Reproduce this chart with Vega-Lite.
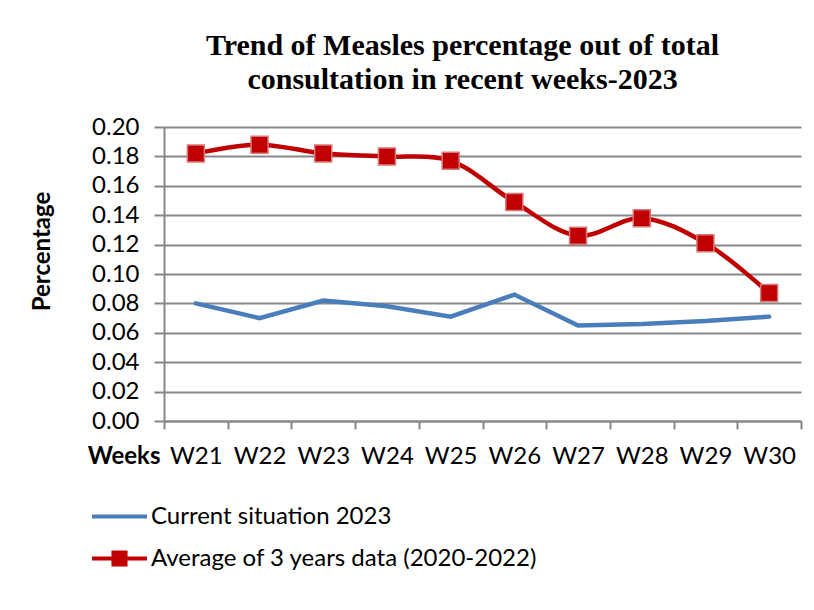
{
  "$schema": "https://vega.github.io/schema/vega-lite/v6.json",
  "width": 637,
  "height": 294,
  "autosize": "none",
  "padding": {"left": 164, "top": 127, "right": 13, "bottom": 189},
  "background": "white",
  "config": {"view": {"stroke": null}, "font": "Lato"},
  "title": {
    "text": ["Trend of Measles percentage out of total", "consultation in recent weeks-2023"],
    "font": "Liberation Serif",
    "fontSize": 30,
    "fontWeight": "bold",
    "color": "black",
    "anchor": "middle",
    "dx": -20,
    "lineHeight": 34,
    "offset": 20
  },
  "data": {
    "values": [
      {"week": "W21", "series": "Current situation 2023", "value": 0.080},
      {"week": "W22", "series": "Current situation 2023", "value": 0.070},
      {"week": "W23", "series": "Current situation 2023", "value": 0.082},
      {"week": "W24", "series": "Current situation 2023", "value": 0.078},
      {"week": "W25", "series": "Current situation 2023", "value": 0.071},
      {"week": "W26", "series": "Current situation 2023", "value": 0.086},
      {"week": "W27", "series": "Current situation 2023", "value": 0.065},
      {"week": "W28", "series": "Current situation 2023", "value": 0.066},
      {"week": "W29", "series": "Current situation 2023", "value": 0.068},
      {"week": "W30", "series": "Current situation 2023", "value": 0.071},
      {"week": "W21", "series": "Average of 3 years data (2020-2022)", "value": 0.182},
      {"week": "W22", "series": "Average of 3 years data (2020-2022)", "value": 0.188},
      {"week": "W23", "series": "Average of 3 years data (2020-2022)", "value": 0.182},
      {"week": "W24", "series": "Average of 3 years data (2020-2022)", "value": 0.180},
      {"week": "W25", "series": "Average of 3 years data (2020-2022)", "value": 0.177},
      {"week": "W26", "series": "Average of 3 years data (2020-2022)", "value": 0.149},
      {"week": "W27", "series": "Average of 3 years data (2020-2022)", "value": 0.126},
      {"week": "W28", "series": "Average of 3 years data (2020-2022)", "value": 0.138},
      {"week": "W29", "series": "Average of 3 years data (2020-2022)", "value": 0.121},
      {"week": "W30", "series": "Average of 3 years data (2020-2022)", "value": 0.087}
    ]
  },
  "encoding": {
    "x": {
      "field": "week",
      "type": "ordinal",
      "sort": null,
      "bandPosition": 0.5,
      "scale": {"type": "band", "paddingInner": 0, "paddingOuter": 0},
      "axis": {
        "title": "Weeks",
        "titleFont": "Lato",
        "titleFontSize": 24,
        "titleFontWeight": "bold",
        "titleColor": "black",
        "titleX": -4,
        "titleY": 42,
        "titleAlign": "right",
        "titleBaseline": "alphabetic",
        "labelAngle": 0,
        "labelFontSize": 24,
        "labelColor": "black",
        "labelBaseline": "alphabetic",
        "labelPadding": 34,
        "tickBand": "extent",
        "tickSize": 8,
        "tickWidth": 2,
        "tickColor": "#878787",
        "domainColor": "#878787",
        "domainWidth": 2,
        "grid": false
      }
    },
    "y": {
      "field": "value",
      "type": "quantitative",
      "scale": {"domain": [0, 0.2], "nice": false},
      "axis": {
        "title": "Percentage",
        "titleFont": "Lato",
        "titleFontSize": 24,
        "titleFontWeight": "bold",
        "titleColor": "black",
        "titleX": -122,
        "titleY": 124,
        "titleAngle": -90,
        "titleAlign": "center",
        "titleBaseline": "middle",
        "values": [0, 0.02, 0.04, 0.06, 0.08, 0.1, 0.12, 0.14, 0.16, 0.18, 0.2],
        "format": ".2f",
        "labelFontSize": 24,
        "labelColor": "black",
        "labelPadding": 15,
        "tickSize": 10,
        "tickWidth": 2,
        "tickColor": "#878787",
        "domainColor": "#878787",
        "domainWidth": 2,
        "grid": true,
        "gridColor": "#878787",
        "gridWidth": 2
      }
    }
  },
  "layer": [
    {
      "transform": [{"filter": "datum.series === 'Current situation 2023'"}],
      "mark": {"type": "line", "strokeWidth": 4.5, "strokeCap": "round", "strokeJoin": "miter"},
      "encoding": {
        "color": {
          "field": "series",
          "type": "nominal",
          "sort": null,
          "scale": {
            "domain": ["Current situation 2023", "Average of 3 years data (2020-2022)"],
            "range": ["#4A7EBB", "#C00000"]
          },
          "legend": {
            "title": null,
            "orient": "none",
            "legendX": -74,
            "legendY": 360,
            "direction": "vertical",
            "labelFont": "Lato",
            "labelFontSize": 24,
            "labelColor": "black",
            "labelOffset": 2,
            "symbolSize": 3025,
            "symbolStrokeWidth": 4,
            "rowPadding": 0,
            "labelLimit": 600,
            "encode": {
              "symbols": {
                "update": {
                  "shape": {"signal": "datum.value === 'Current situation 2023' ? 'M-1,0H1' : 'M-1,0H1M-0.22,-0.22H0.22V0.22H-0.22Z'"},
                  "fill": {"signal": "datum.value === 'Current situation 2023' ? 'transparent' : '#C00000'"},
                  "strokeWidth": {"value": 4}
                }
              }
            }
          }
        }
      }
    },
    {
      "transform": [{"filter": "datum.series !== 'Current situation 2023'"}],
      "mark": {"type": "line", "strokeWidth": 4.5, "strokeCap": "round", "interpolate": "catmull-rom"},
      "encoding": {
        "color": {"field": "series", "type": "nominal", "sort": null}
      }
    },
    {
      "transform": [{"filter": "datum.series !== 'Current situation 2023'"}],
      "mark": {"type": "point", "shape": "square", "filled": true, "size": 289, "color": "#C00000", "stroke": "#D9787A", "strokeWidth": 1.5, "opacity": 1},
      "encoding": {}
    }
  ]
}
